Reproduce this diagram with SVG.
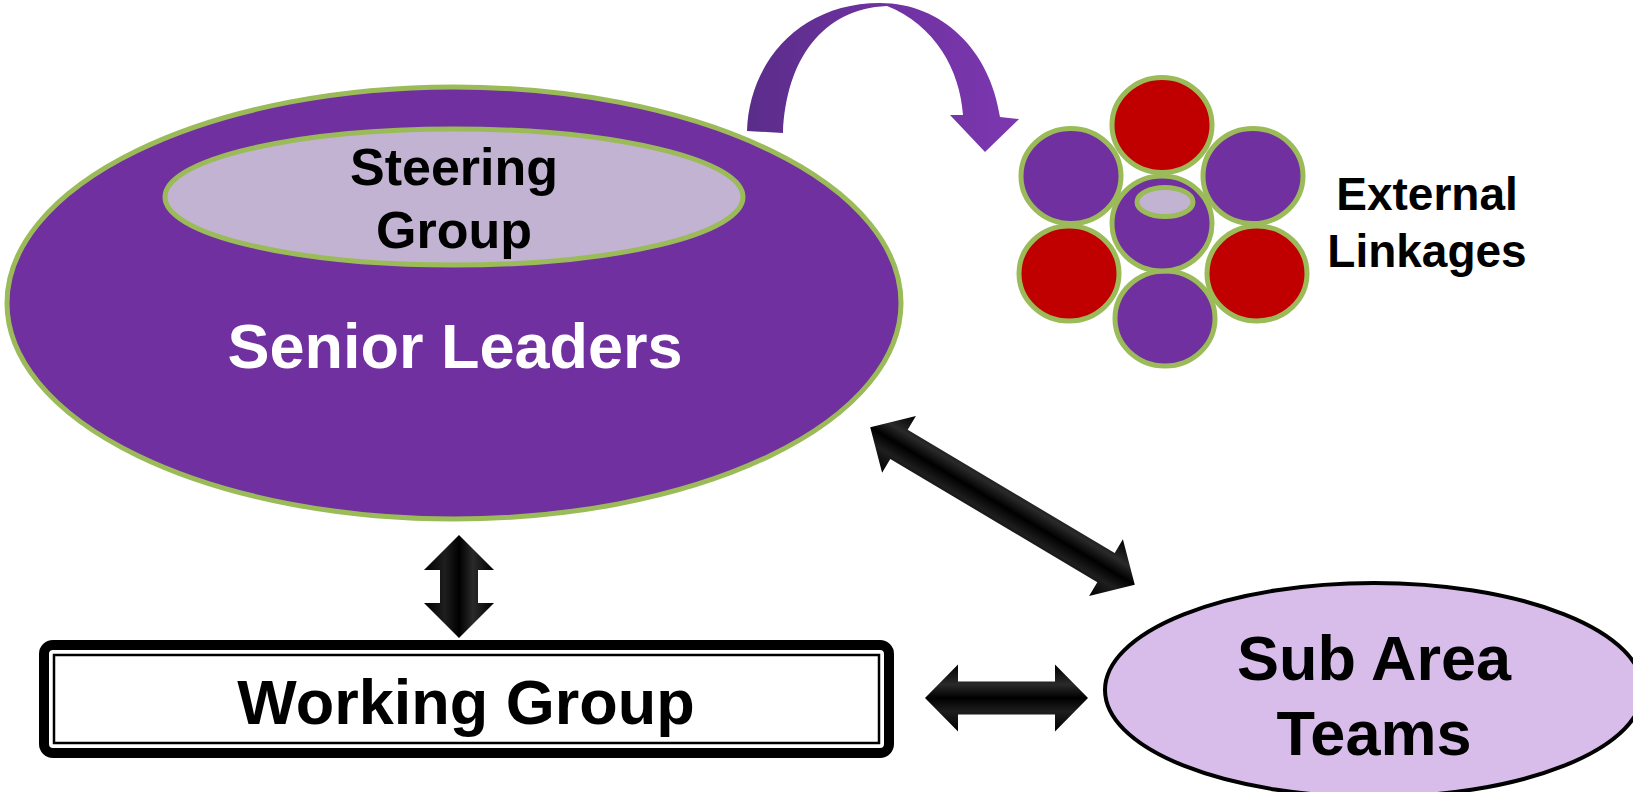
<svg xmlns="http://www.w3.org/2000/svg" width="1633" height="792" viewBox="0 0 1633 792">
<defs>
<style>
.t{font-family:"Liberation Sans",Arial,Helvetica,sans-serif;font-weight:bold;text-anchor:middle}
.grn{stroke:#9BBB59;stroke-width:5}
.pur{fill:#7030A0}
.red{fill:#C00000}
.blk{fill:url(#gloss)}
</style>
<linearGradient id="gloss" x1="0" y1="0" x2="0" y2="1">
<stop offset="0" stop-color="#000"/>
<stop offset="0.3" stop-color="#2a2a2a"/>
<stop offset="0.5" stop-color="#000"/>
<stop offset="0.7" stop-color="#1e1e1e"/>
<stop offset="1" stop-color="#000"/>
</linearGradient>
<linearGradient id="curveGrad" x1="0" y1="0" x2="1" y2="0">
<stop offset="0" stop-color="#5A2D8A"/>
<stop offset="0.5" stop-color="#6E32A0"/>
<stop offset="1" stop-color="#7D37B0"/>
</linearGradient>
</defs>
<rect width="1633" height="792" fill="#fff"/>

<g id="senior-leaders">
<ellipse cx="454" cy="303" rx="447" ry="216" class="pur grn"/>
<text class="t" x="455" y="368" font-size="63" fill="#fff">Senior Leaders</text>
</g>

<g id="steering-group">
<ellipse cx="454" cy="197" rx="289" ry="68" fill="#C2B3D2" class="grn"/>
<text class="t" x="454" y="185" font-size="52" fill="#000">Steering</text>
<text class="t" x="454" y="248" font-size="52" fill="#000">Group</text>
</g>

<g id="external-linkages">
<ellipse cx="1162" cy="125" rx="50" ry="47.5" class="red grn"/>
<ellipse cx="1071" cy="176" rx="50" ry="47.5" class="pur grn"/>
<ellipse cx="1253" cy="176" rx="50" ry="47.5" class="pur grn"/>
<ellipse cx="1069" cy="273.5" rx="50" ry="47.5" class="red grn"/>
<ellipse cx="1257" cy="273.5" rx="50" ry="47.5" class="red grn"/>
<ellipse cx="1165" cy="318.5" rx="50" ry="47.5" class="pur grn"/>
<ellipse cx="1162" cy="223.5" rx="50" ry="47.5" class="pur grn"/>
<ellipse cx="1165" cy="202" rx="28" ry="14.5" fill="#C2B3D2" class="grn"/>
<text class="t" x="1427" y="210" font-size="46" fill="#000">External</text>
<text class="t" x="1427" y="267" font-size="46" fill="#000">Linkages</text>
</g>

<g id="working-group">
<rect x="44" y="645" width="845" height="108" rx="9" fill="#fff" stroke="#000" stroke-width="10"/>
<rect x="54" y="655" width="825" height="88" fill="none" stroke="#000" stroke-width="2.5"/>
<text class="t" x="466" y="724" font-size="63" fill="#000">Working Group</text>
</g>

<g id="sub-area-teams">
<ellipse cx="1374" cy="690" rx="269" ry="107" fill="#D8BDEB" stroke="#000" stroke-width="4"/>
<text class="t" x="1374" y="680" font-size="63" fill="#000">Sub Area</text>
<text class="t" x="1374" y="755" font-size="63" fill="#000">Teams</text>
</g>

<g id="connectors">
<path d="M747 131 C749 62 800 3 880 3 C942 3 990 50 1000 117 L1019 119 L985 152 L950 115 L963 115 C960 70 935 25 887 6 C822 9 786 60 783 133 Z" fill="url(#curveGrad)"/>
<g transform="translate(459 586.5) rotate(90)">
<path class="blk" d="M-51.5 0 L-16.5 -35 L-16.5 -19 L16.5 -19 L16.5 -35 L51.5 0 L16.5 35 L16.5 19 L-16.5 19 L-16.5 35 Z"/>
</g>
<g transform="translate(1006.5 698)">
<path class="blk" d="M-81.5 0 L-48.5 -33.5 L-48.5 -16.5 L48.5 -16.5 L48.5 -33.5 L81.5 0 L48.5 33.5 L48.5 16.5 L-48.5 16.5 L-48.5 33.5 Z"/>
</g>
<g transform="translate(1002.5 506) rotate(30.8)">
<path class="blk" d="M-154 0 L-120.5 -33 L-120.5 -17 L120.5 -17 L120.5 -33 L154 0 L120.5 33 L120.5 17 L-120.5 17 L-120.5 33 Z"/>
</g>
</g>
</svg>
